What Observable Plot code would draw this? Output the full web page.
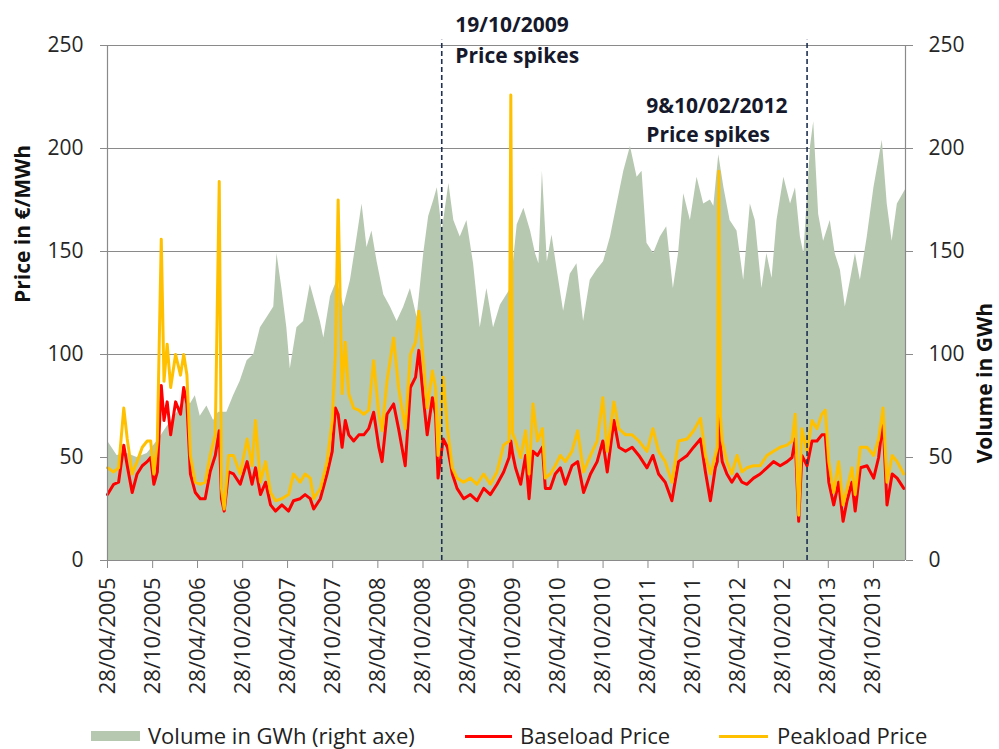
<!DOCTYPE html>
<html>
<head>
<meta charset="utf-8">
<script src="https://cdn.jsdelivr.net/npm/d3@7"></script>
<script src="https://cdn.jsdelivr.net/npm/@observablehq/plot@0.6"></script>
<style>
  body { margin: 0; background: #fff; font-family: "Open Sans", sans-serif; }
  #wrap { position: relative; width: 999px; height: 749px; overflow: hidden; }
  .leg { position: absolute; font-size: 22px; color: #222; line-height: 24px; height: 24px; white-space: nowrap; }
  .sw { position: absolute; }
</style>
</head>
<body>
<div id="wrap"></div>
<script>
// ---- Data ----
const priceDates = [
 "2005-04-28","2005-05-23","2005-06-12","2005-07-03","2005-07-17","2005-08-06","2005-08-26","2005-09-16","2005-10-06","2005-10-20",
 "2005-11-02","2005-11-16","2005-12-02","2005-12-13","2005-12-26","2006-01-09","2006-01-29","2006-02-18","2006-03-03","2006-03-16",
 "2006-03-30","2006-04-19","2006-05-09","2006-05-29","2006-06-18","2006-07-09","2006-07-25","2006-08-03","2006-08-14","2006-09-01",
 "2006-09-21","2006-10-18","2006-11-15","2006-12-05","2006-12-19","2007-01-08","2007-01-29","2007-02-18","2007-03-10","2007-04-05",
 "2007-05-02","2007-05-22","2007-06-18","2007-07-08","2007-07-29","2007-08-12","2007-09-08","2007-10-05","2007-10-26","2007-11-08",
 "2007-11-19","2007-12-05","2007-12-18","2008-01-01","2008-01-21","2008-02-11","2008-03-02","2008-03-22","2008-04-11","2008-05-02",
 "2008-05-15","2008-06-04","2008-07-01","2008-07-21","2008-08-17","2008-09-07","2008-09-28","2008-10-11","2008-10-31","2008-11-14",
 "2008-12-05","2008-12-18","2008-12-28","2009-01-18","2009-02-04","2009-02-24","2009-03-15","2009-04-11","2009-05-08","2009-06-04",
 "2009-07-01","2009-07-28","2009-08-24","2009-09-20","2009-10-12","2009-10-19","2009-10-26","2009-11-07","2009-11-28","2009-12-18",
 "2010-01-01","2010-01-17","2010-02-04","2010-02-24","2010-03-08","2010-03-28","2010-04-17","2010-05-08","2010-05-28","2010-06-24",
 "2010-07-17","2010-08-10","2010-09-07","2010-10-04","2010-10-27","2010-11-14","2010-12-11","2010-12-31","2011-01-27","2011-02-23",
 "2011-03-22","2011-04-24","2011-05-18","2011-06-10","2011-07-07","2011-08-03","2011-08-30","2011-10-04","2011-10-30","2011-11-27",
 "2011-12-17","2012-01-06","2012-01-26","2012-02-03","2012-02-09","2012-02-16","2012-02-23","2012-03-13","2012-04-02","2012-04-23",
 "2012-05-13","2012-06-02","2012-06-29","2012-07-26","2012-08-22","2012-09-18","2012-10-15","2012-11-12","2012-12-02","2012-12-15",
 "2012-12-29","2013-01-11","2013-02-01","2013-02-21","2013-03-13","2013-04-02","2013-04-16","2013-04-30","2013-05-20","2013-06-09",
 "2013-06-27","2013-07-13","2013-08-02","2013-08-15","2013-09-05","2013-10-02","2013-10-29","2013-11-18","2013-12-06","2013-12-22",
 "2014-01-12","2014-02-01","2014-02-28"
];
const baseload = [
 32,37,38,56,46,33,42,46,48,50,
 37,43,85,68,77,61,77,71,84,76,
 42,33,30,30,43,51,63,30,24,43,
 42,37,48,37,45,32,38,27,24,27,
 24,29,30,32,30,25,30,42,53,74,
 71,55,68,61,58,61,61,64,72,55,
 48,71,76,64,46,84,89,102,77,61,
 79,71,40,59,55,42,35,30,32,29,
 35,32,37,43,50,58,52,45,37,51,
 30,53,51,55,35,35,42,45,37,46,
 48,33,42,48,58,43,68,55,53,55,
 51,45,51,42,38,29,48,51,55,59,
 43,29,45,48,75,55,48,42,38,42,
 38,37,40,42,45,48,46,48,50,59,
 19,51,46,58,58,61,61,38,27,38,
 19,29,38,24,45,46,40,50,68,27,
 42,40,35
];
const peakload = [
 45,43,45,74,59,42,48,55,58,58,
 42,58,156,87,105,84,100,90,100,90,
 51,38,37,38,51,61,184,35,25,51,
 51,42,59,46,68,38,48,33,29,30,
 32,42,38,42,40,30,35,48,68,100,
 175,81,106,81,74,73,71,73,97,71,
 63,87,108,84,64,100,106,121,95,74,
 92,84,51,89,64,45,40,38,40,37,
 42,37,43,56,58,226,62,58,50,63,
 42,76,58,64,40,42,46,51,48,53,
 63,43,51,58,79,53,77,64,61,61,
 58,53,64,53,48,38,58,59,63,69,
 51,42,51,55,189,70,58,48,42,51,
 43,45,46,46,51,53,55,56,58,71,
 22,64,53,68,64,71,73,48,33,48,
 27,35,45,32,55,55,51,59,74,38,
 51,48,42
];
const volumeDates = [
 "2005-04-28","2005-06-06","2005-07-17","2005-08-26","2005-10-06","2005-11-16","2005-12-26","2006-02-05","2006-03-10","2006-03-30",
 "2006-04-19","2006-05-09","2006-06-05","2006-07-02","2006-07-22","2006-08-25","2006-09-21","2006-10-18","2006-11-15","2006-12-12",
 "2007-01-08","2007-02-04","2007-03-03","2007-03-16","2007-04-05","2007-04-25","2007-05-09","2007-06-05","2007-07-02","2007-07-29",
 "2007-09-08","2007-09-22","2007-10-19","2007-11-15","2007-12-12","2008-01-08","2008-02-04","2008-02-24","2008-03-15","2008-04-04",
 "2008-04-25","2008-05-22","2008-06-18","2008-07-15","2008-08-11","2008-09-07","2008-10-04","2008-10-31","2008-11-20","2008-12-11",
 "2008-12-25","2009-01-14","2009-02-10","2009-03-02","2009-03-28","2009-04-24","2009-05-21","2009-06-17","2009-07-14","2009-08-10",
 "2009-09-07","2009-10-19","2009-11-14","2009-12-11","2010-01-07","2010-01-27","2010-02-10","2010-02-24","2010-03-16","2010-04-04",
 "2010-04-25","2010-05-21","2010-06-17","2010-07-14","2010-08-10","2010-09-06","2010-10-03","2010-10-30","2010-11-27","2010-12-24",
 "2011-01-20","2011-02-16","2011-03-15","2011-04-04","2011-04-24","2011-05-21","2011-06-17","2011-07-13","2011-08-09","2011-08-30",
 "2011-09-20","2011-10-17","2011-11-13","2011-12-10","2012-01-06","2012-01-20","2012-02-09","2012-03-01","2012-03-26","2012-04-23",
 "2012-05-20","2012-06-16","2012-07-06","2012-08-02","2012-08-22","2012-09-12","2012-10-02","2012-10-30","2012-11-26","2012-12-16",
 "2013-01-05","2013-01-19","2013-02-15","2013-02-28","2013-03-20","2013-04-09","2013-05-06","2013-05-26","2013-06-16","2013-07-06",
 "2013-07-27","2013-08-16","2013-09-05","2013-10-03","2013-10-30","2013-12-03","2013-12-23","2014-01-12","2014-02-02","2014-03-07"
];
const volume = [
 58,51,52,50,52,58,65,72,80,76,
 80,70,75,68,72,72,80,87,97,100,
 113,118,123,149,132,113,93,113,116,134,
 116,108,128,136,123,136,157,173,152,160,
 145,129,123,116,123,132,118,149,167,175,
 181,160,183,165,157,165,144,113,132,113,
 124,132,163,171,160,149,144,189,145,158,
 141,121,139,144,116,136,141,145,157,173,
 189,201,186,189,154,149,157,162,132,149,
 178,165,186,173,175,172,197,181,165,160,
 136,173,165,132,149,137,165,186,173,181,
 157,149,201,213,168,155,165,149,141,123,
 136,149,136,157,181,204,173,155,173,180
];
const tickDates = [
 "2005-04-28","2005-10-28","2006-04-28","2006-10-28","2007-04-28","2007-10-28","2008-04-28","2008-10-28","2009-04-28",
 "2009-10-28","2010-04-28","2010-10-28","2011-04-28","2011-10-28","2012-04-28","2012-10-28","2013-04-28","2013-10-28"
];
const yTicks = [0, 50, 100, 150, 200, 250];
const markerDates = ["2009-01-12", "2013-02-01"];
const annotations = [
  {date: "2009-03-08", value: 260, text: "19/10/2009"},
  {date: "2009-03-08", value: 245, text: "Price spikes"},
  {date: "2011-04-21", value: 220.5, text: "9&10/02/2012"},
  {date: "2011-04-21", value: 206.5, text: "Price spikes"}
];
const xDomain = ["2005-04-28", "2014-03-07"];

// ---- Build tables ----
const parse = d3.utcParse("%Y-%m-%d");
const prices = priceDates.map((d, i) => ({date: parse(d), base: baseload[i], peak: peakload[i]}));
const vol = volumeDates.map((d, i) => ({date: parse(d), v: volume[i]}));
const fmt = d3.utcFormat("%d/%m/%Y");

const gridColor = "#8a8a8a";
const textColor = "#262626";

const chart = Plot.plot({
  width: 999,
  height: 718,
  marginLeft: 107,
  marginRight: 94,
  marginTop: 45,
  marginBottom: 158,
  style: {fontFamily: "'Open Sans', sans-serif", fontSize: "21px", background: "white", overflow: "visible"},
  x: {type: "utc", domain: xDomain.map(parse), label: null},
  y: {domain: [0, 250], label: null},
  marks: [
    Plot.gridY(yTicks, {stroke: gridColor, strokeOpacity: 1, strokeWidth: 1.2}),
    Plot.areaY(vol, {x: "date", y: "v", fill: "#b7c8b1"}),
    Plot.lineY(prices, {x: "date", y: "base", stroke: "#ff0000", strokeWidth: 3, strokeLinejoin: "round"}),
    Plot.lineY(prices, {x: "date", y: "peak", stroke: "#ffc000", strokeWidth: 3, strokeLinejoin: "round"}),
    Plot.ruleX(markerDates.map(parse), {y1: 0, y2: 252.5, stroke: "#1f3050", strokeWidth: 1.6, strokeDasharray: "5,3"}),
    Plot.ruleX(xDomain.map(parse), {stroke: gridColor, strokeWidth: 1.2}),
    Plot.axisY(yTicks, {anchor: "left", tickSize: 7, tickPadding: 17, stroke: gridColor, fill: textColor, label: null}),
    Plot.axisY(yTicks, {anchor: "right", tickSize: 7, tickPadding: 16, stroke: gridColor, fill: textColor, label: null}),
    Plot.axisX(tickDates.map(parse), {anchor: "bottom", tickRotate: -90, tickSize: 8, tickPadding: 9, tickFormat: fmt, fontSize: 22, stroke: gridColor, fill: textColor, label: null}),
    Plot.text(["Price in €/MWh"], {frameAnchor: "left", dx: -84, rotate: -90, fontWeight: "bold", fontSize: 21, fill: "#111"}),
    Plot.text(["Volume in GWh"], {frameAnchor: "right", dx: 80, rotate: -90, fontWeight: "bold", fontSize: 21, fill: "#111"}),
    Plot.text(annotations, {x: d => parse(d.date), y: "value", text: "text", textAnchor: "start", lineAnchor: "middle", fontWeight: "bold", fontSize: 21, fill: "#15192b"})
  ]
});

const wrap = document.getElementById("wrap");
wrap.appendChild(chart);

// ---- Legend (HTML, below the SVG) ----
const legendItems = [
  {label: "Volume in GWh (right axe)", kind: "rect", color: "#b7c8b1", sx: 91, sw: 49, tx: 148},
  {label: "Baseload Price", kind: "line", color: "#ff0000", sx: 465, sw: 47, tx: 520},
  {label: "Peakload Price", kind: "line", color: "#ffc000", sx: 719, sw: 49, tx: 777}
];
for (const it of legendItems) {
  const s = document.createElement("div");
  s.className = "sw";
  s.style.left = it.sx + "px";
  s.style.width = it.sw + "px";
  s.style.background = it.color;
  if (it.kind === "rect") { s.style.top = "731px"; s.style.height = "10px"; }
  else { s.style.top = "735px"; s.style.height = "3px"; }
  wrap.appendChild(s);
  const t = document.createElement("div");
  t.className = "leg";
  t.style.left = it.tx + "px";
  t.style.top = "723px";
  t.textContent = it.label;
  wrap.appendChild(t);
}
</script>
</body>
</html>
